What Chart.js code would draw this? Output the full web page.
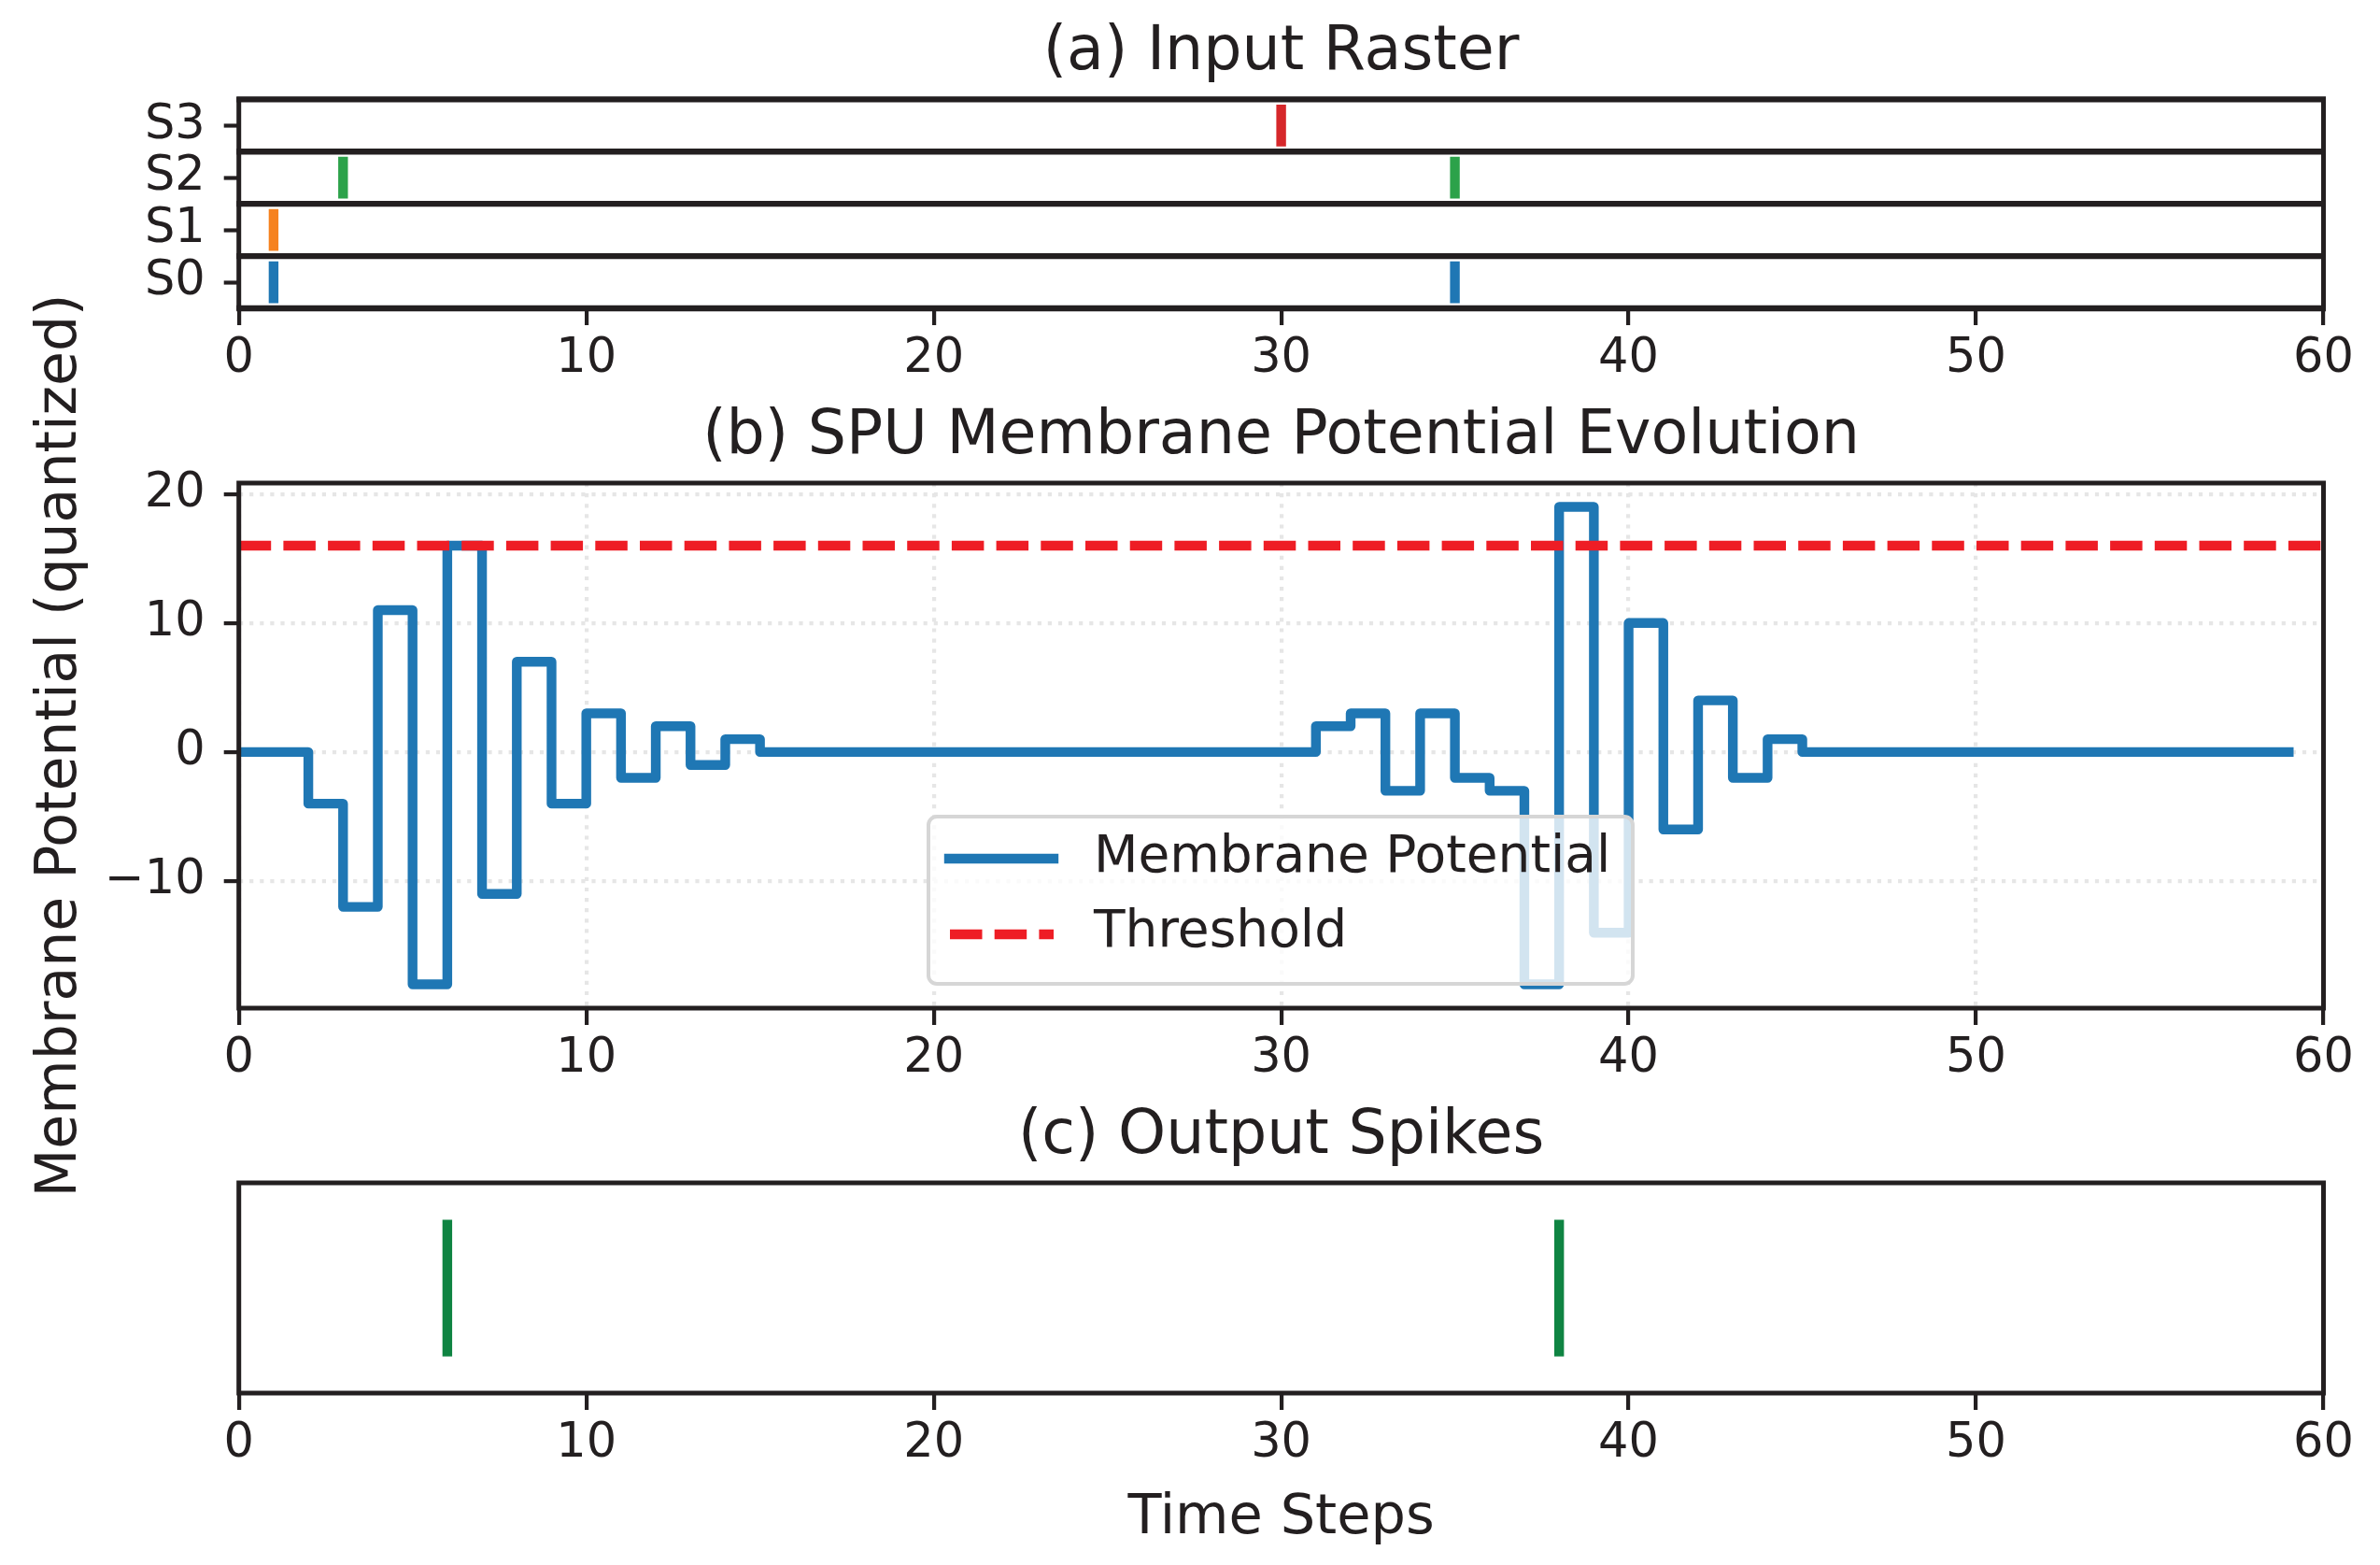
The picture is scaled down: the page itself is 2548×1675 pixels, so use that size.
<!DOCTYPE html>
<html><head><meta charset="utf-8">
<script src="https://cdn.jsdelivr.net/npm/chart.js@4/dist/chart.umd.min.js"></script>
<style>
html,body{margin:0;padding:0;background:#fff;}
body{width:2548px;height:1675px;position:relative;overflow:hidden;}
canvas{position:absolute;left:0;}
</style></head><body>
<canvas id="cA" width="2548" height="420" style="top:0;width:2548px;height:420px"></canvas>
<canvas id="cC" width="2548" height="525" style="top:1150px;width:2548px;height:525px"></canvas>
<canvas id="cB" width="2548" height="1040" style="top:280px;width:2548px;height:1040px"></canvas>
<script>
// ---------------- data ----------------
const timeTicks = [0, 10, 20, 30, 40, 50, 60];
const rasterLabels = ['S0', 'S1', 'S2', 'S3'];
const spikesS0 = [1, 35];
const spikesS1 = [1];
const spikesS2 = [3, 35];
const spikesS3 = [30];
const membranePotential = [
  0, 0, -4, -12, 11, -18, 16, -11, 7, -4, 3, -2, 2, -1, 1,
  0, 0, 0, 0, 0, 0, 0, 0, 0, 0, 0, 0, 0, 0, 0, 0,
  2, 3, -3, 3, -2, -3, -18, 19, -14, 10, -6, 4, -2, 1,
  0, 0, 0, 0, 0, 0, 0, 0, 0, 0, 0, 0, 0, 0, 0
];
const threshold = 16;
const membraneTicks = [-10, 0, 10, 20];
const outputSpikes = [6, 38];

// ---------------- style ----------------
const INK = '#231f20';
const FONT = 'DejaVu Sans';
Chart.defaults.font.family = FONT;
Chart.defaults.color = INK;
const rasterColors = ['#1f77b4', '#f6821f', '#2ca24a', '#d6272a'];
const memColor = '#1f77b4';
const thrColor = '#ee1d25';
const outColor = '#0f8442';
const LW = 10.4;

function segs(times, lo, hi) {
  const d = [];
  times.forEach(t => { d.push({x: t, y: lo}, {x: t, y: hi}, {x: t, y: null}); });
  return d;
}
function fmt(v) { return v < 0 ? '\u2212' + Math.abs(v) : String(v); }

function xScale(h, gridOn) {
  return {
    type: 'linear', min: 0, max: 60,
    afterBuildTicks: s => { s.ticks = timeTicks.map(v => ({value: v})); },
    afterFit: s => { s.height = h; },
    grid: {drawOnChartArea: gridOn, color: '#e6e6e6', lineWidth: 4.2, drawTicks: true,
           tickLength: 18, tickWidth: 4.2, tickColor: INK},
    border: {display: false, dash: gridOn ? [4.2, 6.9] : []},
    ticks: {color: INK, font: {family: FONT, size: 51}, padding: 6.4, maxRotation: 0, autoSkip: false}
  };
}

const framePlugin = {
  id: 'frame',
  afterDatasetsDraw(chart, args, opts) {
    const {ctx, chartArea: a} = chart;
    ctx.save();
    ctx.strokeStyle = INK;
    ctx.setLineDash([]);
    ctx.lineWidth = 5;
    ctx.strokeRect(a.left, a.top, a.right - a.left, a.bottom - a.top);
    if (opts && opts.separators) {
      const ys = chart.scales.y;
      ctx.lineWidth = 6.3;
      opts.separators.forEach(v => {
        const p = ys.getPixelForValue(v);
        ctx.beginPath(); ctx.moveTo(a.left - 2.5, p); ctx.lineTo(a.right + 2.5, p); ctx.stroke();
      });
    }
    ctx.restore();
  }
};

const legendPlugin = {
  id: 'boxLegend',
  afterDatasetsDraw(chart) {
    const ctx = chart.ctx;
    const L = {x: 994, y: 594, w: 754, h: 179, r: 9};
    ctx.save();
    ctx.beginPath();
    ctx.roundRect(L.x, L.y, L.w, L.h, L.r);
    ctx.fillStyle = 'rgba(255,255,255,0.8)';
    ctx.fill();
    ctx.lineWidth = 4;
    ctx.strokeStyle = '#d6d6d6';
    ctx.stroke();
    // handles
    ctx.strokeStyle = memColor; ctx.lineWidth = LW; ctx.lineCap = 'square';
    ctx.beginPath(); ctx.moveTo(1016, 639); ctx.lineTo(1128, 639); ctx.stroke();
    ctx.strokeStyle = thrColor; ctx.lineCap = 'butt'; ctx.setLineDash([34.5, 13.2]);
    ctx.beginPath(); ctx.moveTo(1017, 720); ctx.lineTo(1128, 720); ctx.stroke();
    ctx.setLineDash([]);
    ctx.fillStyle = INK; ctx.font = '55px "' + FONT + '"'; ctx.textBaseline = 'middle'; ctx.textAlign = 'left';
    ctx.fillText(chart.data.datasets[1].label, 1171, 639);
    ctx.fillText(chart.data.datasets[0].label, 1171, 719);
    ctx.restore();
  }
};

const base = {responsive: false, animation: false, events: [], devicePixelRatio: 1};

// ---------------- (a) Input Raster ----------------
const rasterSpikes = [spikesS0, spikesS1, spikesS2, spikesS3];
new Chart(document.getElementById('cA'), {
  type: 'line',
  data: {
    datasets: rasterSpikes.map((times, k) => ({
      label: rasterLabels[k], data: segs(times, k - 0.4, k + 0.4),
      borderColor: rasterColors[k], borderWidth: LW, borderCapStyle: 'butt',
      pointRadius: 0, fill: false, spanGaps: false
    }))
  },
  options: Object.assign({}, base, {
    layout: {padding: {left: 0, right: 60.5, top: 0, bottom: 0}},
    plugins: {
      legend: {display: false}, tooltip: {enabled: false},
      title: {display: true, fullSize: false, text: '(a) Input Raster', color: INK,
              font: {family: FONT, size: 65, weight: 'normal', lineHeight: 1.2},
              padding: {top: 18.5, bottom: 9.8}},
      frame: {separators: [-0.5, 0.5, 1.5, 2.5, 3.5]}
    },
    scales: {
      x: xScale(90, false),
      y: {
        type: 'linear', min: -0.5, max: 3.5,
        afterBuildTicks: s => { s.ticks = rasterLabels.map((_, i) => ({value: i})); },
        afterFit: s => { s.width = 255.7; },
        grid: {drawOnChartArea: false, drawTicks: true, tickLength: 16, tickWidth: 4.2, tickColor: INK},
        border: {display: false},
        ticks: {color: INK, font: {family: FONT, size: 51}, padding: 20,
                callback: v => rasterLabels[v]}
      }
    }
  }),
  plugins: [framePlugin]
});

// ---------------- (b) Membrane potential ----------------
new Chart(document.getElementById('cB'), {
  type: 'line',
  data: {
    datasets: [
      {label: 'Threshold', data: [{x: 0, y: threshold}, {x: 60, y: threshold}],
       borderColor: thrColor, borderWidth: LW, borderDash: [34.5, 13.2], borderCapStyle: 'butt',
       pointRadius: 0, fill: false, order: 0, clip: 0},
      {label: 'Membrane Potential', data: membranePotential.map((v, i) => ({x: i, y: v})),
       borderColor: memColor, borderWidth: LW, stepped: true, borderJoinStyle: 'round',
       borderCapStyle: 'square', pointRadius: 0, fill: false, order: 1, clip: 0}
    ]
  },
  options: Object.assign({}, base, {
    layout: {padding: {left: 0, right: 60.5, top: 0, bottom: 0}},
    plugins: {
      legend: {display: false}, tooltip: {enabled: false},
      title: {display: true, fullSize: false, text: '(b) SPU Membrane Potential Evolution', color: INK,
              font: {family: FONT, size: 65, weight: 'normal', lineHeight: 1.2},
              padding: {top: 149.5, bottom: 9.5}}
    },
    scales: {
      x: xScale(241, true),
      y: {
        type: 'linear', min: -19.85, max: 20.85,
        afterBuildTicks: s => { s.ticks = membraneTicks.map(v => ({value: v})); },
        afterFit: s => { s.width = 255.7; },
        grid: {drawOnChartArea: true, color: '#e6e6e6', lineWidth: 4.2, drawTicks: true,
               tickLength: 16, tickWidth: 4.2, tickColor: INK},
        border: {display: false, dash: [4.2, 6.9]},
        ticks: {color: INK, font: {family: FONT, size: 51}, padding: 20, callback: v => fmt(v)},
        title: {display: true, text: 'Membrane Potential (quantized)', color: INK,
                font: {family: FONT, size: 60, lineHeight: 1.2}, padding: {top: 29, bottom: 0}}
      }
    }
  }),
  plugins: [framePlugin, legendPlugin]
});

// ---------------- (c) Output spikes ----------------
new Chart(document.getElementById('cC'), {
  type: 'line',
  data: {
    datasets: [{label: 'Output Spikes', data: segs(outputSpikes, 0.175, 0.825),
      borderColor: outColor, borderWidth: LW, borderCapStyle: 'butt', pointRadius: 0, fill: false, spanGaps: false}]
  },
  options: Object.assign({}, base, {
    layout: {padding: {left: 255.7, right: 60.5, top: 0, bottom: 0}},
    plugins: {
      legend: {display: false}, tooltip: {enabled: false},
      title: {display: true, fullSize: false, text: '(c) Output Spikes', color: INK,
              font: {family: FONT, size: 65, weight: 'normal', lineHeight: 1.2},
              padding: {top: 28.2, bottom: 9.8}}
    },
    scales: {
      x: Object.assign(xScale(184, false), {
        title: {display: true, text: 'Time Steps', color: INK,
                font: {family: FONT, size: 59, lineHeight: 1.2}, padding: {top: 0, bottom: 14}}
      }),
      y: {type: 'linear', min: 0, max: 1, display: false}
    }
  }),
  plugins: [framePlugin]
});
</script>
</body></html>
